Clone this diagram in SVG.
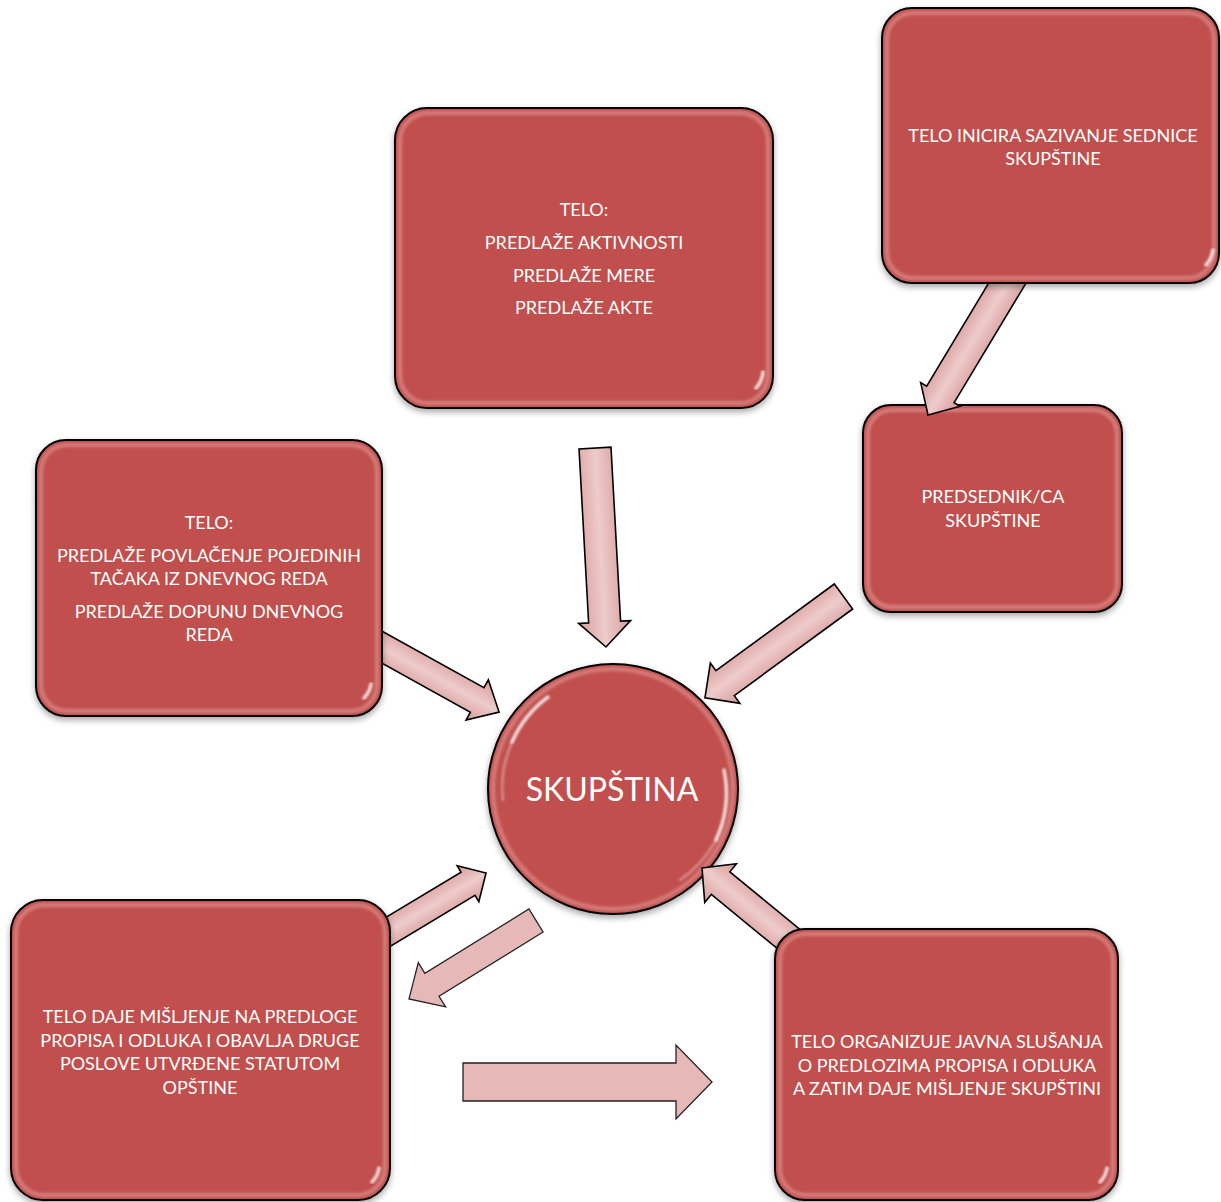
<svg xmlns="http://www.w3.org/2000/svg" width="1221" height="1202" viewBox="0 0 1221 1202">
<defs>
<filter id="sh" x="-10%" y="-10%" width="120%" height="125%">
<feDropShadow dx="0" dy="3" stdDeviation="3" flood-color="#000" flood-opacity="0.35"/>
</filter>
<filter id="blur" x="-10%" y="-10%" width="120%" height="120%"><feGaussianBlur stdDeviation="1.5"/></filter>
<filter id="soft" x="-50%" y="-10%" width="200%" height="120%"><feGaussianBlur stdDeviation="0.8"/></filter>
<linearGradient id="ag" x1="0" y1="0" x2="0" y2="1">
<stop offset="0" stop-color="#d89a99"/>
<stop offset="0.5" stop-color="#edcccb"/>
<stop offset="1" stop-color="#d89a99"/>
</linearGradient>
<style>
.box{fill:#c0504d;stroke:#000;stroke-width:2;filter:url(#sh)}
.bev{fill:none;stroke:#f2b8b6;stroke-opacity:0.45;stroke-width:4;filter:url(#blur)}
.hl{stroke:#fff;stroke-width:3.5;stroke-linecap:round;fill:none;opacity:0.8;filter:url(#soft)}
.hf{stroke:#fff;stroke-width:3;stroke-linecap:round;fill:none;opacity:0.3;filter:url(#soft)}
.t{font-family:Lato,"Liberation Sans",sans-serif;font-size:18px;fill:#fff;text-anchor:middle}
.arr{fill:url(#ag);stroke:#000;stroke-width:1.6;stroke-linejoin:miter}
.flat{fill:#e6b8b7;stroke:#222;stroke-width:1.3}
</style>
</defs>
<rect width="1221" height="1202" fill="#fff"/>

<g id="presednik">
<rect class="box" x="863" y="405" width="259" height="207" rx="28"/>
<rect class="bev" x="868" y="410" width="249" height="197" rx="24"/>
<line class="hl" x1="873" y1="428" x2="873" y2="470"/>
<line class="hf" x1="873" y1="470" x2="873" y2="585"/>
<line class="hl" x1="1112" y1="440" x2="1112" y2="500"/>
<line class="hf" x1="1112" y1="500" x2="1112" y2="585"/>
<text class="t" x="993" y="503">PREDSEDNIK/CA</text>
<text class="t" x="993" y="527">SKUPŠTINE</text>
</g>

<g id="skupstina">
<circle cx="613" cy="789" r="125" fill="#c0504d" stroke="#000" stroke-width="2" filter="url(#sh)"/>
<circle cx="613" cy="789" r="120" fill="none" stroke="#f2b8b6" stroke-opacity="0.45" stroke-width="4" filter="url(#blur)"/>
<path class="hl" d="M 512 742 A 112 112 0 0 1 548 697"/>
<path class="hf" d="M 503 800 A 112 112 0 0 1 512 742"/>
<path class="hl" d="M 724 770 A 112 112 0 0 1 716 840"/>
<path class="hf" d="M 716 840 A 112 112 0 0 1 680 880"/>
<text x="612" y="801" font-family="Lato,'Liberation Sans',sans-serif" font-size="32" fill="#fff" text-anchor="middle">SKUPŠTINA</text>
</g>

<g id="connectors">
<path class="arr" transform="translate(595,448) rotate(86.84)" d="M0,-16 L174.3,-16 L174.3,-26 L199.3,0 L174.3,26 L174.3,16 L0,16 Z"/>
<path class="arr" transform="translate(360,635) rotate(29)" d="M0,-14 L134,-14 L134,-23 L159,0 L134,23 L134,14 L0,14 Z"/>
<path class="arr" transform="translate(1015.6,269.3) rotate(121)" d="M0,-16 L146,-16 L146,-23 L170,0 L146,23 L146,16 L0,16 Z"/>
<path class="arr" transform="translate(843.5,596.5) rotate(143.8)" d="M0,-15.5 L146.7,-15.5 L146.7,-25 L171.7,0 L146.7,25 L146.7,15.5 L0,15.5 Z"/>
<path class="arr" transform="translate(370.3,942.5) rotate(-31)" d="M0,-13.5 L114,-13.5 L114,-21 L135,0 L114,21 L114,13.5 L0,13.5 Z"/>
<path class="flat" transform="translate(536,920.5) rotate(148.3)" d="M0,-13.5 L122.3,-13.5 L122.3,-26 L149.3,0 L122.3,26 L122.3,13.5 L0,13.5 Z"/>
<path class="flat" d="M463,1063 L676,1063 L676,1045 L712,1082 L676,1119 L676,1101 L463,1101 Z"/>
<path class="arr" transform="translate(802.5,950.4) rotate(219.4)" d="M0,-14.6 L106,-14.6 L106,-25 L130,0 L106,25 L106,14.6 L0,14.6 Z"/>
</g>

<g id="telo-akti">
<rect class="box" x="395" y="108" width="378" height="300" rx="32"/>
<rect class="bev" x="400" y="113" width="368" height="290" rx="28"/>
<line class="hl" x1="407" y1="132" x2="407" y2="180"/>
<line class="hf" x1="407" y1="180" x2="407" y2="380"/>
<line class="hl" x1="761" y1="140" x2="761" y2="200"/>
<line class="hf" x1="761" y1="200" x2="761" y2="375"/>
<path class="hl" d="M 756 388 Q 762 382 763 372"/>
<text class="t" x="584" y="215.5">TELO:</text>
<text class="t" x="584" y="249">PREDLAŽE AKTIVNOSTI</text>
<text class="t" x="584" y="282">PREDLAŽE MERE</text>
<text class="t" x="584" y="314">PREDLAŽE AKTE</text>
</g>

<g id="telo-inicira">
<rect class="box" x="882" y="8" width="337" height="275" rx="30"/>
<rect class="bev" x="887" y="13" width="327" height="265" rx="26"/>
<line class="hl" x1="894" y1="32" x2="894" y2="75"/>
<line class="hf" x1="894" y1="75" x2="894" y2="255"/>
<line class="hl" x1="1212" y1="40" x2="1212" y2="95"/>
<line class="hf" x1="1212" y1="95" x2="1212" y2="250"/>
<path class="hl" d="M 1206 265 Q 1212 258 1213 250"/>
<text class="t" x="1053" y="141.5">TELO INICIRA SAZIVANJE SEDNICE</text>
<text class="t" x="1053" y="164.5">SKUPŠTINE</text>
</g>

<g id="telo-dnevni-red">
<rect class="box" x="36" y="440" width="346" height="276" rx="30"/>
<rect class="bev" x="41" y="445" width="336" height="266" rx="26"/>
<line class="hl" x1="48" y1="464" x2="48" y2="505"/>
<line class="hf" x1="48" y1="505" x2="48" y2="690"/>
<line class="hl" x1="370" y1="472" x2="370" y2="530"/>
<line class="hf" x1="370" y1="530" x2="370" y2="685"/>
<path class="hl" d="M 364 698 Q 370 692 371 684"/>
<text class="t" x="209" y="529">TELO:</text>
<text class="t" x="209" y="561.5">PREDLAŽE POVLAČENJE POJEDINIH</text>
<text class="t" x="209" y="584.5">TAČAKA IZ DNEVNOG REDA</text>
<text class="t" x="209" y="617.5">PREDLAŽE DOPUNU DNEVNOG</text>
<text class="t" x="209" y="640.5">REDA</text>
</g>

<g id="telo-misljenje">
<rect class="box" x="11" y="900" width="379" height="300" rx="32"/>
<rect class="bev" x="16" y="905" width="369" height="290" rx="28"/>
<line class="hl" x1="23" y1="925" x2="23" y2="970"/>
<line class="hf" x1="23" y1="970" x2="23" y2="1170"/>
<line class="hl" x1="378" y1="930" x2="378" y2="1000"/>
<line class="hf" x1="378" y1="1000" x2="378" y2="1165"/>
<path class="hl" d="M 372 1182 Q 378 1176 379 1168"/>
<text class="t" x="200" y="1022.5">TELO DAJE MIŠLJENJE NA PREDLOGE</text>
<text class="t" x="200" y="1046.5">PROPISA I ODLUKA I OBAVLJA DRUGE</text>
<text class="t" x="200" y="1070">POSLOVE UTVRĐENE STATUTOM</text>
<text class="t" x="200" y="1093.5">OPŠTINE</text>
</g>

<g id="telo-slusanja">
<rect class="box" x="775" y="929" width="343" height="271" rx="30"/>
<rect class="bev" x="780" y="934" width="333" height="261" rx="26"/>
<line class="hl" x1="787" y1="952" x2="787" y2="995"/>
<line class="hf" x1="787" y1="995" x2="787" y2="1170"/>
<line class="hl" x1="1106" y1="958" x2="1106" y2="1020"/>
<line class="hf" x1="1106" y1="1020" x2="1106" y2="1168"/>
<path class="hl" d="M 1100 1182 Q 1106 1176 1107 1168"/>
<text class="t" x="947" y="1048">TELO ORGANIZUJE JAVNA SLUŠANJA</text>
<text class="t" x="947" y="1071.5">O PREDLOZIMA PROPISA I ODLUKA</text>
<text class="t" x="947" y="1095">A ZATIM DAJE MIŠLJENJE SKUPŠTINI</text>
</g>
</svg>
